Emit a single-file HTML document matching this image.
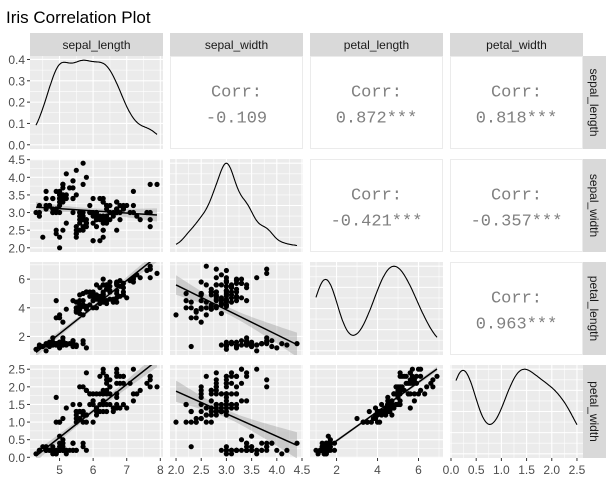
<!DOCTYPE html>
<html><head><meta charset="utf-8"><style>
body{margin:0;background:#fff;}
svg{display:block;font-family:"Liberation Sans",sans-serif;}
</style></head><body>
<svg id="chart" width="614" height="484" viewBox="0 0 614 484">
<text x="6" y="23" font-size="17" fill="#000">Iris Correlation Plot</text>
</svg>
<script>
const varNames = ["sepal_length","sepal_width","petal_length","petal_width"];
const sepalLength = [5.1,4.9,4.7,4.6,5.0,5.4,4.6,5.0,4.4,4.9,5.4,4.8,4.8,4.3,5.8,5.7,5.4,5.1,5.7,5.1,5.4,5.1,4.6,5.1,4.8,5.0,5.0,5.2,5.2,4.7,4.8,5.4,5.2,5.5,4.9,5.0,5.5,4.9,4.4,5.1,5.0,4.5,4.4,5.0,5.1,4.8,5.1,4.6,5.3,5.0,
7.0,6.4,6.9,5.5,6.5,5.7,6.3,4.9,6.6,5.2,5.0,5.9,6.0,6.1,5.6,6.7,5.6,5.8,6.2,5.6,5.9,6.1,6.3,6.1,6.4,6.6,6.8,6.7,6.0,5.7,5.5,5.5,5.8,6.0,5.4,6.0,6.7,6.3,5.6,5.5,5.5,6.1,5.8,5.0,5.6,5.7,5.7,6.2,5.1,5.7,
6.3,5.8,7.1,6.3,6.5,7.6,4.9,7.3,6.7,7.2,6.5,6.4,6.8,5.7,5.8,6.4,6.5,7.7,7.7,6.0,6.9,5.6,7.7,6.3,6.7,7.2,6.2,6.1,6.4,7.2,7.4,7.9,6.4,6.3,6.1,7.7,6.3,6.4,6.0,6.9,6.7,6.9,5.8,6.8,6.7,6.7,6.3,6.5,6.2,5.9];
const sepalWidth = [3.5,3.0,3.2,3.1,3.6,3.9,3.4,3.4,2.9,3.1,3.7,3.4,3.0,3.0,4.0,4.4,3.9,3.5,3.8,3.8,3.4,3.7,3.6,3.3,3.4,3.0,3.4,3.5,3.4,3.2,3.1,3.4,4.1,4.2,3.1,3.2,3.5,3.6,3.0,3.4,3.5,2.3,3.2,3.5,3.8,3.0,3.8,3.2,3.7,3.3,
3.2,3.2,3.1,2.3,2.8,2.8,3.3,2.4,2.9,2.7,2.0,3.0,2.2,2.9,2.9,3.1,3.0,2.7,2.2,2.5,3.2,2.8,2.5,2.8,2.9,3.0,2.8,3.0,2.9,2.6,2.4,2.4,2.7,2.7,3.0,3.4,3.1,2.3,3.0,2.5,2.6,3.0,2.6,2.3,2.7,3.0,2.9,2.9,2.5,2.8,
3.3,2.7,3.0,2.9,3.0,3.0,2.5,2.9,2.5,3.6,3.2,2.7,3.0,2.5,2.8,3.2,3.0,3.8,2.6,2.2,3.2,2.8,2.8,2.7,3.3,3.2,2.8,3.0,2.8,3.0,2.8,3.8,2.8,2.8,2.6,3.0,3.4,3.1,3.0,3.1,3.1,3.1,2.7,3.2,3.3,3.0,2.5,3.0,3.4,3.0];
const petalLength = [1.4,1.4,1.3,1.5,1.4,1.7,1.4,1.5,1.4,1.5,1.5,1.6,1.4,1.1,1.2,1.5,1.3,1.4,1.7,1.5,1.7,1.5,1.0,1.7,1.9,1.6,1.6,1.5,1.4,1.6,1.6,1.5,1.5,1.4,1.5,1.2,1.3,1.4,1.3,1.5,1.3,1.3,1.3,1.6,1.9,1.4,1.6,1.4,1.5,1.4,
4.7,4.5,4.9,4.0,4.6,4.5,4.7,3.3,4.6,3.9,3.5,4.2,4.0,4.7,3.6,4.4,4.5,4.1,4.5,3.9,4.8,4.0,4.9,4.7,4.3,4.4,4.8,5.0,4.5,3.5,3.8,3.7,3.9,5.1,4.5,4.5,4.7,4.4,4.1,4.0,4.4,4.6,4.0,3.3,4.2,4.2,4.2,4.3,3.0,4.1,
6.0,5.1,5.9,5.6,5.8,6.6,4.5,6.3,5.8,6.1,5.1,5.3,5.5,5.0,5.1,5.3,5.5,6.7,6.9,5.0,5.7,4.9,6.7,4.9,5.7,6.0,4.8,4.9,5.6,5.8,6.1,6.4,5.6,5.1,5.6,6.1,5.6,5.5,4.8,5.4,5.6,5.1,5.1,5.9,5.7,5.2,5.0,5.2,5.4,5.1];
const petalWidth = [0.2,0.2,0.2,0.2,0.2,0.4,0.3,0.2,0.2,0.1,0.2,0.2,0.1,0.1,0.2,0.4,0.4,0.3,0.3,0.3,0.2,0.4,0.2,0.5,0.2,0.2,0.4,0.2,0.2,0.2,0.2,0.4,0.1,0.2,0.2,0.2,0.2,0.1,0.2,0.2,0.3,0.3,0.2,0.6,0.4,0.3,0.2,0.2,0.2,0.2,
1.4,1.5,1.5,1.3,1.5,1.3,1.6,1.0,1.3,1.4,1.0,1.5,1.0,1.4,1.3,1.4,1.5,1.0,1.5,1.1,1.8,1.3,1.5,1.2,1.3,1.4,1.4,1.7,1.5,1.0,1.1,1.0,1.2,1.6,1.5,1.6,1.5,1.3,1.3,1.3,1.2,1.4,1.2,1.0,1.3,1.2,1.3,1.3,1.1,1.3,
2.5,1.9,2.1,1.8,2.2,2.1,1.7,1.8,1.8,2.5,2.0,1.9,2.1,2.0,2.4,2.3,1.8,2.2,2.3,1.5,2.3,2.0,2.0,1.8,2.1,1.8,1.8,1.8,2.1,1.6,1.9,2.0,2.2,1.5,1.4,2.3,2.4,1.8,1.8,2.1,2.4,2.3,1.9,2.3,2.5,2.3,1.9,2.0,2.3,1.8];
const corrLabels = ["-0.109","0.872***","0.818***","-0.421***","-0.357***","0.963***"];
const tickSL = [5,6,7,8], tickSW = [2.0,2.5,3.0,3.5,4.0,4.5], tickPL = [2,4,6], tickPW = [0.0,0.5,1.0,1.5,2.0,2.5];
const densTicks = [0.0,0.1,0.2,0.3,0.4];

const data = [sepalLength, sepalWidth, petalLength, petalWidth];
const ticks = [tickSL, tickSW, tickPL, tickPW];
const tickFmt = [v=>String(v), v=>v.toFixed(1), v=>String(v), v=>v.toFixed(1)];
const colX = [30,170,310,450], rowY = [56,159,262,365], PW = 133, PH = 93;
const NS = "http://www.w3.org/2000/svg";
const svg = document.getElementById("chart");
function mk(tag, attrs, parent){const e=document.createElementNS(NS,tag);for(const k in attrs)e.setAttribute(k,attrs[k]);(parent||svg).appendChild(e);return e;}
function rng(a){const mn=Math.min(...a),mx=Math.max(...a),d=mx-mn;return [mn-0.05*d,mx+0.05*d];}
const ranges = data.map(rng);
function sx(j,v){const r=ranges[j];return colX[j]+(v-r[0])/(r[1]-r[0])*PW;}
function sy(i,v){const r=ranges[i];return rowY[i]+PH-(v-r[0])/(r[1]-r[0])*PH;}
function mean(a){return a.reduce((s,v)=>s+v,0)/a.length;}
function sd(a){const m=mean(a);return Math.sqrt(a.reduce((s,v)=>s+(v-m)**2,0)/(a.length-1));}
function quant(a,p){const s=[...a].sort((x,y)=>x-y);const h=(s.length-1)*p,l=Math.floor(h);return s[l]+(h-l)*((s[Math.min(l+1,s.length-1)])-s[l]);}
function kde(a){const n=a.length;const bw=0.9*Math.min(sd(a),(quant(a,0.75)-quant(a,0.25))/1.34)*Math.pow(n,-0.2);
 const mn=Math.min(...a),mx=Math.max(...a);const pts=[];for(let k=0;k<=200;k++){const x=mn+(mx-mn)*k/200;let s=0;for(const v of a)s+=Math.exp(-0.5*((x-v)/bw)**2);pts.push([x,s/(n*bw*Math.sqrt(2*Math.PI))]);}return pts;}

// strips
for(let j=0;j<4;j++){
 const g=mk("g",{});
 
 
 mk("rect",{x:colX[j],y:33,width:PW,height:23,fill:"#D9D9D9"},g);
 const t=mk("text",{x:colX[j]+PW/2,y:49,"text-anchor":"middle","font-size":"12",fill:"#1A1A1A"},g);t.textContent=varNames[j];
}
for(let i=0;i<4;i++){
 const g=mk("g",{});
 
 
 mk("rect",{x:583,y:rowY[i],width:23,height:PH,fill:"#D9D9D9"},g);
 const cx=590,cy=rowY[i]+PH/2;
 const t=mk("text",{x:cx,y:cy,"text-anchor":"middle","font-size":"12",fill:"#1A1A1A",transform:`rotate(90 ${cx} ${cy})`},g);t.textContent=varNames[i];
}
let ci=0;
for(let i=0;i<4;i++)for(let j=0;j<4;j++){
 const g=mk("g",{});
 const x0=colX[j],y0=rowY[i];
 if(j>i){
  
  
  mk("rect",{x:x0+0.5,y:y0+0.5,width:PW-1,height:PH-1,fill:"#fff",stroke:"#EBEBEB"},g);
  const t1=mk("text",{x:x0+PW/2,y:y0+PH/2-6,"text-anchor":"middle","font-size":"17",fill:"#808080","font-family":"Liberation Mono, monospace"},g);t1.textContent="Corr:";
  const t2=mk("text",{x:x0+PW/2,y:y0+PH/2+20,"text-anchor":"middle","font-size":"17",fill:"#808080","font-family":"Liberation Mono, monospace"},g);t2.textContent=corrLabels[ci++];
  continue;
 }
 
 
 mk("rect",{x:x0,y:y0,width:PW,height:PH,fill:"#EBEBEB"},g);
 // x grid
 const xt=ticks[j];const xs=xt[1]-xt[0];
 const minorX=[xt[0]-xs/2,...xt.map(v=>v+xs/2)];
 for(const v of minorX){const px=sx(j,v);if(px>x0&&px<x0+PW)mk("line",{x1:px,x2:px,y1:y0,y2:y0+PH,stroke:"#fff","stroke-width":0.55},g);}
 for(const v of xt){const px=sx(j,v);if(px>=x0&&px<=x0+PW)mk("line",{x1:px,x2:px,y1:y0,y2:y0+PH,stroke:"#fff","stroke-width":1.1},g);}
 // y grid
 let yTicks, yfun;
 if(i===j){
  const d=kde(data[i]);const dmax=Math.max(...d.map(p=>p[1]));
  const ylo=-0.05*dmax,yhi=1.05*dmax;
  yfun=v=>y0+PH-(v-ylo)/(yhi-ylo)*PH;
  yTicks = i===0?densTicks:[];
  const dt = i===0?densTicks:[0,dmax*0.25,dmax*0.5,dmax*0.75,dmax];
  const ds = dt[1]-dt[0];
  for(const v of dt){const py=yfun(v);if(py>=y0&&py<=y0+PH)mk("line",{x1:x0,x2:x0+PW,y1:py,y2:py,stroke:"#fff","stroke-width":1.1},g);
   const pm=yfun(v+ds/2);if(pm>y0&&pm<y0+PH)mk("line",{x1:x0,x2:x0+PW,y1:pm,y2:pm,stroke:"#fff","stroke-width":0.55},g);}
  const path=d.map((p,k)=>(k?"L":"M")+sx(j,p[0]).toFixed(1)+","+yfun(p[1]).toFixed(1)).join("");
  const pth=mk("path",{d:path,fill:"none",stroke:"#000","stroke-width":1.1},g);
  
  
 } else {
  yfun=v=>sy(i,v);yTicks=ticks[i];
  const ys=yTicks[1]-yTicks[0];
  for(const v of [yTicks[0]-ys/2,...yTicks.map(v=>v+ys/2)]){const py=yfun(v);if(py>y0&&py<y0+PH)mk("line",{x1:x0,x2:x0+PW,y1:py,y2:py,stroke:"#fff","stroke-width":0.55},g);}
  for(const v of yTicks){const py=yfun(v);if(py>=y0&&py<=y0+PH)mk("line",{x1:x0,x2:x0+PW,y1:py,y2:py,stroke:"#fff","stroke-width":1.1},g);}
  const X=data[j],Y=data[i],n=X.length;
  const mx=mean(X),my=mean(Y);let sxx=0,sxy=0;for(let k=0;k<n;k++){sxx+=(X[k]-mx)**2;sxy+=(X[k]-mx)*(Y[k]-my);}
  const b=sxy/sxx,a=my-b*mx;let sse=0;for(let k=0;k<n;k++)sse+=(Y[k]-a-b*X[k])**2;const s=Math.sqrt(sse/(n-2));
  const xmin=Math.min(...X),xmax=Math.max(...X);
  const up=[],lo=[];
  for(let k=0;k<=40;k++){const x=xmin+(xmax-xmin)*k/40;const f=a+b*x;const se=1.976*s*Math.sqrt(1/n+(x-mx)**2/sxx);up.push([x,f+se]);lo.push([x,f-se]);}
  const cp=mk("clipPath",{id:"clip"+i+j},g);mk("rect",{x:x0,y:y0,width:PW,height:PH},cp);
  const band=[...up,...lo.reverse()].map((p,k)=>(k?"L":"M")+sx(j,p[0]).toFixed(1)+","+yfun(p[1]).toFixed(1)).join("")+"Z";
  const bd=mk("path",{d:band,fill:"#999","fill-opacity":0.4,"clip-path":`url(#clip${i}${j})`},g);
  
  
  for(let k=0;k<n;k++){
   const c=mk("circle",{cx:sx(j,X[k]).toFixed(1),cy:yfun(Y[k]).toFixed(1),r:2.6,fill:"#000"},g);
   
   
  }
  const ln=mk("line",{x1:sx(j,xmin),y1:yfun(a+b*xmin),x2:sx(j,xmax),y2:yfun(a+b*xmax),stroke:"#000","stroke-width":1.5,"clip-path":`url(#clip${i}${j})`},g);
  
  
 }
 // y axis labels on first column
 if(j===0){
  const ya=mk("g",{});
  
  
  const fmt=i===0?(v=>v.toFixed(1)):tickFmt[i];
  for(const v of yTicks){const py=yfun(v);
   mk("line",{x1:27,x2:30,y1:py,y2:py,stroke:"#333","stroke-width":1},ya);
   const t=mk("text",{x:25,y:py+4.5,"text-anchor":"end","font-size":"12",fill:"#4D4D4D"},ya);t.textContent=fmt(v);}
 }
 if(i===3){
  const xa=mk("g",{});
  
  
  for(const v of ticks[j]){const px=sx(j,v);
   mk("line",{x1:px,x2:px,y1:458,y2:461,stroke:"#333","stroke-width":1},xa);
   const t=mk("text",{x:px,y:474,"text-anchor":"middle","font-size":"12",fill:"#4D4D4D"},xa);t.textContent=tickFmt[j](v);}
 }
}
</script>
</body></html>
